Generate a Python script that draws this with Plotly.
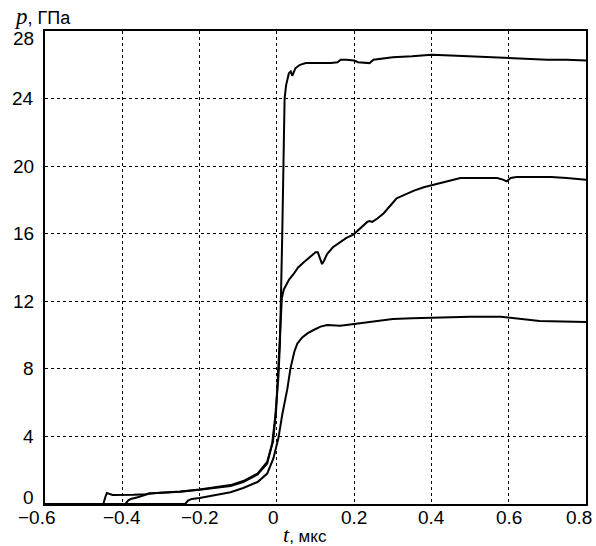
import plotly.graph_objects as go

# Curve A (peak ~26 GPa)
t_a = [-0.6, -0.449, -0.444, -0.44, -0.425, -0.40, -0.37, -0.34, -0.33, -0.30, -0.25, -0.20, -0.15,
       -0.12, -0.087, -0.05, -0.025, -0.012, -0.004, 0.004, 0.008, 0.011, 0.014, 0.017, 0.02, 0.024,
       0.028, 0.031, 0.036, 0.04, 0.048, 0.06, 0.075, 0.1, 0.14, 0.157, 0.165, 0.18, 0.2, 0.21, 0.24,
       0.25, 0.27, 0.3, 0.35, 0.4, 0.45, 0.5, 0.55, 0.6, 0.65, 0.7, 0.75, 0.8]
p_a = [0, 0, 0.4, 0.65, 0.53, 0.53, 0.55, 0.58, 0.62, 0.66, 0.72, 0.84, 0.97,
       1.07, 1.3, 1.75, 2.4, 3.6, 5.2, 7.5, 9.5, 12.0, 16.0, 20.0, 24.0, 24.8,
       25.2, 25.5, 25.6, 25.35, 25.8, 26.0, 26.1, 26.1, 26.1, 26.15, 26.3, 26.3, 26.25, 26.15, 26.1,
       26.3, 26.35, 26.45, 26.5, 26.6, 26.55, 26.5, 26.45, 26.4, 26.35, 26.3, 26.3, 26.25]

# Curve B (peak ~19 GPa)
t_b = [-0.6, -0.392, -0.385, -0.378, -0.36, -0.34, -0.33, -0.30, -0.25, -0.20, -0.15, -0.12, -0.087,
       -0.05, -0.025, -0.01, -0.002, 0.003, 0.008, 0.013, 0.018, 0.022, 0.032, 0.043, 0.055, 0.069,
       0.085, 0.1, 0.106, 0.112, 0.117, 0.122, 0.13, 0.145, 0.164, 0.18, 0.198, 0.216, 0.234, 0.24,
       0.247, 0.26, 0.276, 0.295, 0.31, 0.33, 0.355, 0.38, 0.405, 0.44, 0.475, 0.5, 0.54, 0.57, 0.585,
       0.595, 0.605, 0.62, 0.66, 0.71, 0.75, 0.8]
p_b = [0, 0, 0.2, 0.3, 0.4, 0.55, 0.62, 0.67, 0.74, 0.86, 1.0, 1.12, 1.36,
       1.8, 2.5, 3.7, 5.5, 8.0, 10.5, 12.2, 12.7, 12.9, 13.3, 13.6, 14.0, 14.3,
       14.6, 14.9, 14.9, 14.5, 14.2, 14.4, 14.8, 15.2, 15.5, 15.75, 15.95, 16.3, 16.7, 16.75,
       16.7, 16.9, 17.2, 17.7, 18.1, 18.3, 18.55, 18.75, 18.9, 19.1, 19.3, 19.3, 19.3, 19.3, 19.2,
       19.1, 19.3, 19.35, 19.35, 19.35, 19.3, 19.2]

# Curve C (peak ~11 GPa)
t_c = [-0.6, -0.237, -0.23, -0.22, -0.2, -0.15, -0.12, -0.087, -0.05, -0.025, -0.009, 0.004, 0.014,
       0.027, 0.035, 0.045, 0.053, 0.065, 0.079, 0.095, 0.113, 0.13, 0.164, 0.19, 0.216, 0.26, 0.30,
       0.35, 0.40, 0.45, 0.5, 0.58, 0.62, 0.65, 0.68, 0.74, 0.8]
p_c = [0, 0, 0.2, 0.3, 0.36, 0.55, 0.7, 0.95, 1.3, 1.8, 2.7, 3.9, 5.3,
       6.8, 8.0, 9.0, 9.5, 9.85, 10.1, 10.3, 10.5, 10.6, 10.55, 10.62, 10.7, 10.85, 10.95,
       11.0, 11.02, 11.08, 11.08, 11.08, 11.0, 10.9, 10.84, 10.8, 10.78]

x_ticks = [-0.6, -0.4, -0.2, 0, 0.2, 0.4, 0.6, 0.8]
x_tick_labels = ["\u22120.6", "\u22120.4", "\u22120.2", "0", "0.2", "0.4", "0.6", "0.8"]
y_ticks = [0, 4, 8, 12, 16, 20, 24, 28]
y_tick_labels = ["0", "4", "8", "12", "16", "20", "24", "28"]

FONT = "Liberation Sans, Arial, sans-serif"
SERIF = "Liberation Serif, DejaVu Serif, serif"
TICK_FONT = dict(family=FONT, size=19, color="black")

fig = go.Figure()
for tt, pp in [(t_a, p_a), (t_b, p_b), (t_c, p_c)]:
    fig.add_trace(go.Scatter(x=tt, y=pp, mode="lines",
                             line=dict(color="black", width=2), showlegend=False,
                             hoverinfo="skip"))

axis_common = dict(showline=True, linecolor="black", linewidth=1.5, mirror=True,
                   showgrid=True, gridcolor="black", gridwidth=1, griddash="dot",
                   zeroline=False, ticks="", showticklabels=False, automargin=False)

fig.update_xaxes(range=[-0.6, 0.8], tickvals=x_ticks, **axis_common)
fig.update_yaxes(range=[0, 28], tickvals=y_ticks, **axis_common)

# y tick labels
for v, lab in zip(y_ticks, y_tick_labels):
    shift = 0
    if v == y_ticks[0]:
        shift = 7
    elif v == y_ticks[-1]:
        shift = -7
    fig.add_annotation(x=0, xref="paper", y=v, yref="y", text=lab, showarrow=False,
                       xanchor="right", yanchor="middle", xshift=-9, yshift=shift,
                       font=TICK_FONT)

# x tick labels
for v, lab in zip(x_ticks, x_tick_labels):
    shift = 0
    if v == x_ticks[0]:
        shift = -8
    elif v == x_ticks[-1]:
        shift = -7
    elif v == 0:
        shift = -3
    fig.add_annotation(x=v, xref="x", y=0, yref="paper", text=lab, showarrow=False,
                       xanchor="center", yanchor="middle", xshift=shift, yshift=-13,
                       font=TICK_FONT)

# axis titles
fig.add_annotation(x=0.48, xref="paper", y=0, yref="paper", xanchor="center", yanchor="middle",
                   yshift=-30, showarrow=False,
                   text="<i><span style='font-family:%s;font-size:22px'>t</span></i>, мкс" % SERIF,
                   font=dict(family=FONT, size=17, color="black"))
fig.add_annotation(x=0, xref="paper", y=1, yref="paper", xanchor="left", yanchor="middle",
                   xshift=-33, yshift=15, showarrow=False,
                   text="<i><span style='font-family:%s;font-size:23px'>p</span></i>, ГПа" % SERIF,
                   font=dict(family=FONT, size=18, color="black"))

fig.update_layout(width=596, height=546, margin=dict(l=45, r=10, t=31, b=42),
                  plot_bgcolor="white", paper_bgcolor="white")

fig.write_html("out.html", config={"displayModeBar": False},
               post_script="document.body.style.margin='0';document.body.style.overflow='hidden';")
